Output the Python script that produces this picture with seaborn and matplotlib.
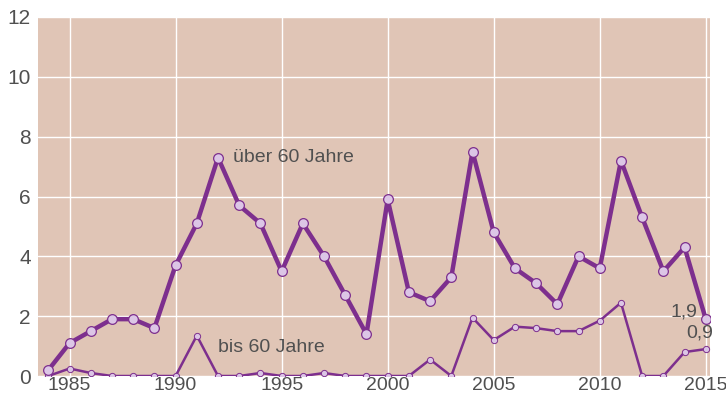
import matplotlib
matplotlib.use("Agg")
import matplotlib.pyplot as plt
import seaborn as sns
import pandas as pd

# ====== Data ======
years = list(range(1984, 2016))
ueber_60 = [0.2, 1.1, 1.5, 1.9, 1.9, 1.6, 3.7, 5.1, 7.3, 5.7, 5.1, 3.5, 5.1, 4.0, 2.7, 1.4,
            5.9, 2.8, 2.5, 3.3, 7.5, 4.8, 3.6, 3.1, 2.4, 4.0, 3.6, 7.2, 5.3, 3.5, 4.3, 1.9]
bis_60 = [0.0, 0.25, 0.1, 0.0, 0.0, 0.0, 0.0, 1.35, 0.0, 0.0, 0.1, 0.0, 0.0, 0.1, 0.0, 0.0,
          0.0, 0.0, 0.55, 0.0, 1.95, 1.2, 1.65, 1.6, 1.5, 1.5, 1.85, 2.45, 0.0, 0.0, 0.8, 0.9]
x_ticks = [1985, 1990, 1995, 2000, 2005, 2010, 2015]
y_ticks = [0, 2, 4, 6, 8, 10, 12]

# ====== Style ======
BG = "#e0c5b6"
PURPLE = "#7d2f8e"
FACE = "#dcc6e6"
TEXT = "#505050"

sns.set_style("white")
plt.rcParams["font.family"] = ["Liberation Sans", "DejaVu Sans"]

df = pd.DataFrame({"Jahr": years, "ueber": ueber_60, "bis": bis_60})

fig = plt.figure(figsize=(7.26, 4.0), dpi=100)
ax = fig.add_axes([0.052, 0.06, 0.926, 0.8975])
ax.set_facecolor(BG)

sns.lineplot(data=df, x="Jahr", y="bis", ax=ax, color=PURPLE, linewidth=1.8,
             marker="o", markersize=4.5, markerfacecolor=FACE, markeredgecolor=PURPLE,
             markeredgewidth=0.7, zorder=3)
sns.lineplot(data=df, x="Jahr", y="ueber", ax=ax, color=PURPLE, linewidth=3.2,
             marker="o", markersize=7, markerfacecolor=FACE, markeredgecolor=PURPLE,
             markeredgewidth=0.9, zorder=4)

ax.set_xlim(1983.5, 2015.2)
ax.set_ylim(0, 12)
ax.set_xticks(x_ticks)
ax.set_yticks(y_ticks)
ax.set_xticks(years, minor=True)
ax.grid(True, which="major", color="white", linewidth=1.0)
ax.set_axisbelow(True)
for s in ax.spines.values():
    s.set_visible(False)

ax.tick_params(axis="both", which="major", length=0, labelcolor=TEXT)
ax.tick_params(axis="x", which="major", pad=1, labelsize=14)
ax.tick_params(axis="y", which="major", pad=5, labelsize=15)
ax.tick_params(axis="x", which="minor", direction="in", length=6, width=1, color="white")
ax.set_xlabel("")
ax.set_ylabel("")

ax.text(1992.7, 7.3, "über 60 Jahre", fontsize=14, color=TEXT, va="center", ha="left")
ax.text(1992.0, 0.95, "bis 60 Jahre", fontsize=14, color=TEXT, va="center", ha="left")
ax.text(2014.6, 2.15, "1,9", fontsize=14, color=TEXT, va="center", ha="right")
ax.text(2015.35, 1.45, "0,9", fontsize=14, color=TEXT, va="center", ha="right")

fig.savefig("out.png", dpi=100, facecolor="white")
